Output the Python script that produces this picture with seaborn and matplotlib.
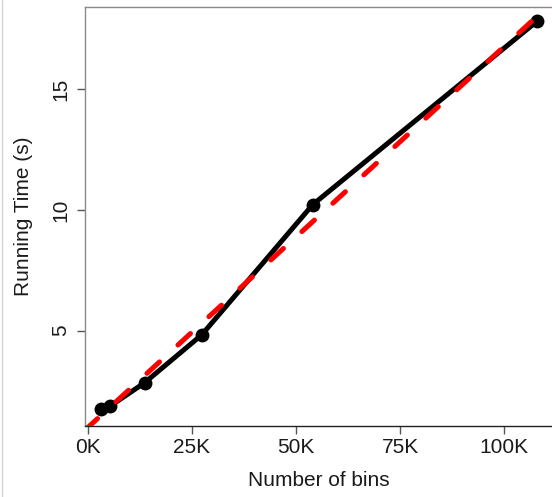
import matplotlib
matplotlib.use("Agg")
import matplotlib.pyplot as plt
from matplotlib.lines import Line2D
from matplotlib.ticker import FuncFormatter
import pandas as pd
import seaborn as sns

# Running time measured for increasing numbers of bins
bins = [3200, 5400, 13600, 27300, 54000, 107900]
run_time = [1.74, 1.88, 2.84, 4.82, 10.22, 17.82]
x_ticks = [0, 25000, 50000, 75000, 100000]
y_ticks = [5, 10, 15]

df = pd.DataFrame({"bins": bins, "time": run_time})

sns.set_theme(style="white")
plt.rcParams["font.family"] = ["Liberation Sans", "DejaVu Sans"]

W, H = 552, 497
fig = plt.figure(figsize=(W / 100, H / 100), dpi=100)
left, right, top, bottom = 85, 552, 7, 425.7
ax = fig.add_axes([left / W, 1 - bottom / H, (right - left) / W, (bottom - top) / H])

xlim = (-720, 111500)
ylim = (1.06, 18.41)
ax.set_xlim(*xlim)
ax.set_ylim(*ylim)

# measured times joined by a thick line
sns.lineplot(data=df, x="bins", y="time", ax=ax, color="black", lw=3.6,
             marker="o", markersize=10, markeredgewidth=0, zorder=2)

# least-squares trend across the full axis width
sns.regplot(data=df, x="bins", y="time", ax=ax, scatter=False, ci=None,
            truncate=False,
            line_kws=dict(color="#ff0000", lw=3.6, dashes=(3.4, 5.0),
                          dash_capstyle="round", zorder=3))

ax.set_xlim(*xlim)
ax.set_ylim(*ylim)

ax.set_xticks(x_ticks)
ax.set_yticks(y_ticks)
ax.xaxis.set_major_formatter(FuncFormatter(lambda v, _: f"{int(round(v / 1000))}K"))
ax.tick_params(axis="both", which="major", labelsize=15, colors="#1a1a1a",
               length=5.8, width=1.0)
ax.tick_params(axis="x", bottom=True, pad=3.2, color="#555555")
ax.tick_params(axis="y", left=True, pad=5.0, color="#555555")
plt.setp(ax.get_yticklabels(), rotation=90, va="center")

for side in ("left", "top"):
    ax.spines[side].set_color("#8a8a8a")
    ax.spines[side].set_linewidth(1.0)
ax.spines["bottom"].set_color("#222222")
ax.spines["bottom"].set_linewidth(1.0)
ax.spines["right"].set_visible(False)

ax.set_xlabel("Number of bins", fontsize=15, color="#1a1a1a")
ax.set_ylabel("Running Time (s)", fontsize=15, color="#1a1a1a")
ax.xaxis.set_label_coords(0.5, -0.108)
ax.yaxis.set_label_coords(-0.1124, 0.5)

# thin frame line along the left edge of the image
fig.add_artist(Line2D([1.5 / W, 1.5 / W], [0, 1], transform=fig.transFigure,
                      color="#d4d4d4", lw=1.0))

fig.savefig("out.png", dpi=100)
